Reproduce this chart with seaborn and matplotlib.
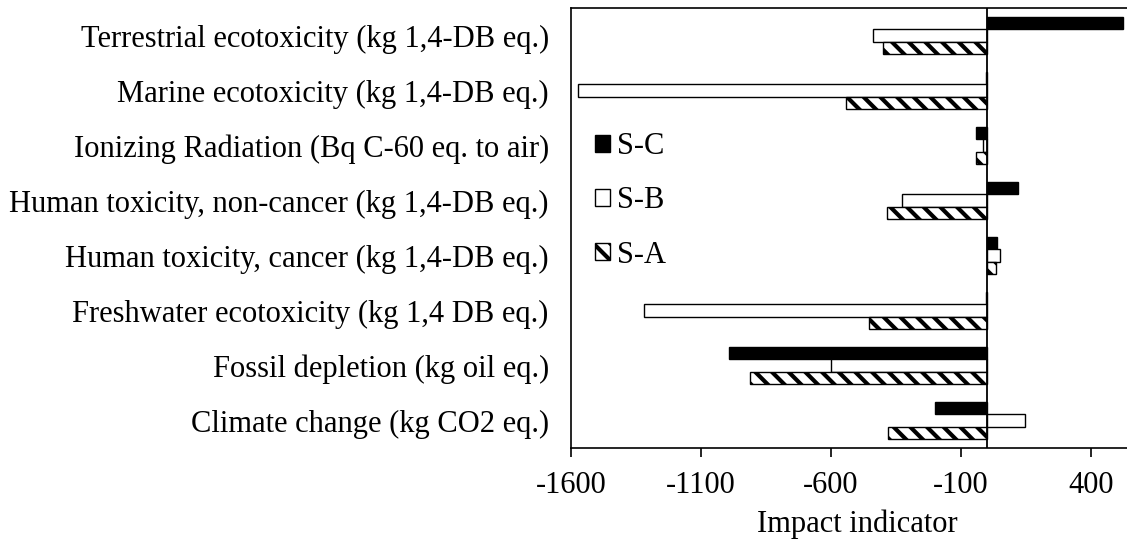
import matplotlib
matplotlib.use("Agg")
import matplotlib.pyplot as plt
import seaborn as sns
import pandas as pd
from matplotlib.patches import Patch

categories = [
    "Terrestrial ecotoxicity (kg 1,4-DB eq.)",
    "Marine ecotoxicity (kg 1,4-DB eq.)",
    "Ionizing Radiation (Bq C-60 eq. to air)",
    "Human toxicity, non-cancer (kg 1,4-DB eq.)",
    "Human toxicity, cancer (kg 1,4-DB eq.)",
    "Freshwater ecotoxicity (kg 1,4 DB eq.)",
    "Fossil depletion (kg oil eq.)",
    "Climate change (kg CO2 eq.)",
]
series_names = ["S-C", "S-B", "S-A"]
s_c = [523, -5, -43, 120, 38, -5, -992, -200]
s_b = [-438, -1574, -14, -327, 50, -1321, -600, 145]
s_a = [-401, -543, -43, -385, 35, -454, -913, -380]
x_ticks = [-1600, -1100, -600, -100, 400]

sns.set_theme(style="white")
plt.rcParams['font.family'] = ['Liberation Serif', 'DejaVu Serif']
plt.rcParams['hatch.linewidth'] = 3.0
plt.rcParams['hatch.color'] = 'black'
plt.rcParams['text.color'] = 'black'
plt.rcParams['axes.labelcolor'] = 'black'
plt.rcParams['xtick.color'] = 'black'
plt.rcParams['ytick.color'] = 'black'

FS = 22

rows = []
for name, vals in zip(series_names, [s_c, s_b, s_a]):
    for cat, v in zip(categories, vals):
        rows.append({"category": cat, "series": name, "value": v})
df = pd.DataFrame(rows)

fig = plt.figure(figsize=(11.27, 5.44), dpi=100)
ax = fig.add_axes([571 / 1127, 96 / 544, 572 / 1127, 440 / 544])

sns.barplot(data=df, x="value", y="category", hue="series", order=categories,
            hue_order=series_names, orient="h", width=0.66, dodge=True,
            ax=ax, legend=False, errorbar=None)

styles = {
    "S-C": dict(facecolor="black", hatch=None),
    "S-B": dict(facecolor="white", hatch=None),
    "S-A": dict(facecolor="white", hatch="\\\\"),
}
for cont, name in zip(ax.containers, series_names):
    for bar in cont:
        bar.set_facecolor(styles[name]["facecolor"])
        bar.set_edgecolor("black")
        bar.set_linewidth(1.0)
        if styles[name]["hatch"]:
            bar.set_hatch(styles[name]["hatch"])

ax.axvline(0, color="black", lw=1.3, zorder=5)
ax.set_xlim(-1600, 600)
ax.set_ylim(len(categories) - 0.5, -0.5)
ax.set_xticks(x_ticks)
ax.set_xticklabels([str(t) for t in x_ticks])
ax.tick_params(axis="x", direction="out", length=6.5, width=1.2, labelsize=FS, pad=10, bottom=True)
ax.tick_params(axis="y", length=0, labelsize=FS, pad=16)
ax.set_xlabel("Impact indicator", fontsize=FS, labelpad=7)
ax.set_ylabel("")
for sp in ["left", "bottom", "top"]:
    ax.spines[sp].set_visible(True)
    ax.spines[sp].set_color("black")
    ax.spines[sp].set_linewidth(1.2)
ax.spines["right"].set_visible(False)

handles = [
    Patch(facecolor="black", edgecolor="black", linewidth=1.0),
    Patch(facecolor="white", edgecolor="black", linewidth=1.0),
    Patch(facecolor="white", edgecolor="black", linewidth=1.0, hatch="\\\\"),
]
ax.legend(handles, series_names, loc="center left",
          bbox_to_anchor=(595 / 1127, (544 - 201) / 544), bbox_transform=fig.transFigure,
          frameon=False, fontsize=FS, handlelength=0.48, handleheight=0.45,
          handletextpad=0.25, labelspacing=0.82, borderpad=0, borderaxespad=0)

fig.savefig("out.png", dpi=100)
